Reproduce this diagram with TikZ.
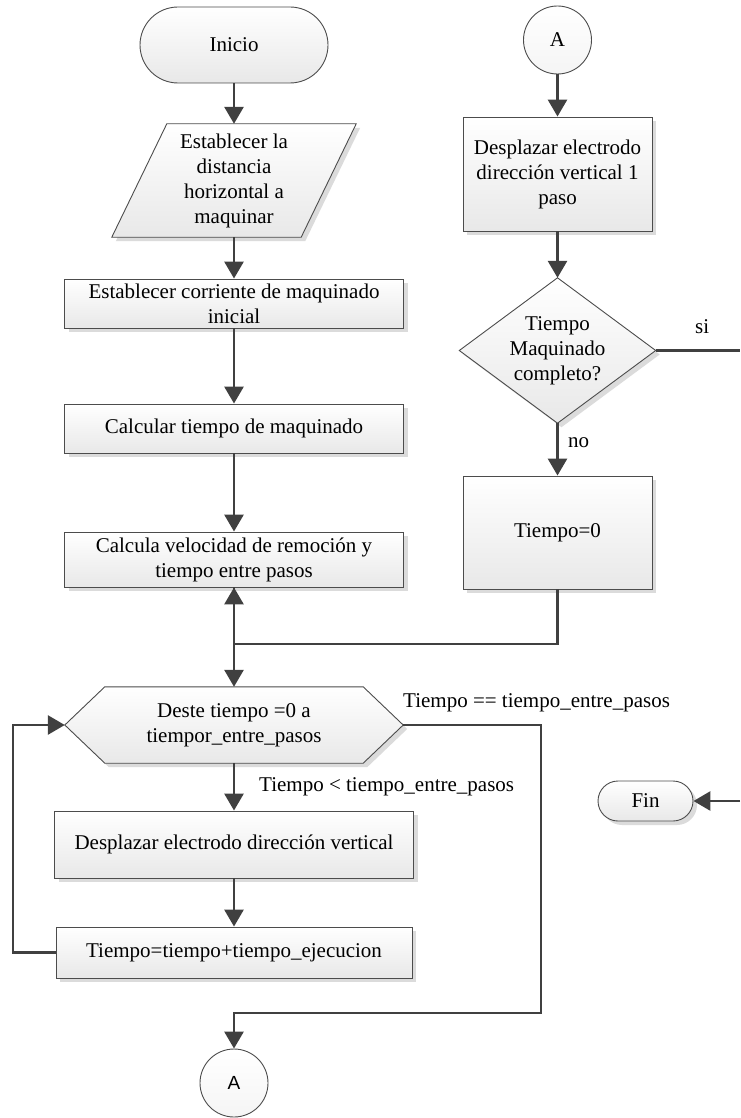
\documentclass[tikz,border=0pt]{standalone}
\usepackage{fontspec}
\setmainfont{Liberation Serif}
\newfontfamily\sansA{Liberation Sans}
\usetikzlibrary{arrows.meta,shadows,calc}
\pgfdeclarelayer{background}
\pgfsetlayers{background,main}

\begin{document}
\begin{tikzpicture}[x=1pt,y=-1pt,
  every node/.style={font=\fontsize{21}{25}\selectfont, align=center, inner sep=0pt},
  fillshade/.style={top color=white, bottom color=black!9, draw=black!70, line width=0.9pt},
  shadowed/.style={drop shadow={shadow xshift=4pt, shadow yshift=-4pt, fill=black!14, opacity=1}},
  procbox/.style={rectangle, fillshade, shadowed},
  terminal/.style={rectangle, fillshade},
  outline/.style={fillshade, shadowed},
  pageref/.style={circle, draw=black!70, line width=0.9pt, top color=white, bottom color=black!4, minimum size=68pt},
  conn/.style={draw=black!75, line width=2.9pt, -{Triangle[length=17pt,width=19pt]}},
  plainline/.style={draw=black!75, line width=2.9pt},
  lbl/.style={anchor=base west}
]
\useasboundingbox (0,0) rectangle (740,1118);

% ---------- left column ----------
\node[terminal, minimum width=188pt, minimum height=76pt, rounded corners=38pt] (ini) at (234,45) {Inicio};

\node[minimum width=244pt, minimum height=113pt] (par) at (234,180.5)
  {Establecer la\\distancia\\horizontal a\\maquinar};

\node[procbox, minimum width=339pt, minimum height=49pt] (corr) at (234,303.5)
  {Establecer corriente de maquinado\\inicial};
\node[procbox, minimum width=339pt, minimum height=49pt] (calc) at (234,428.5)
  {Calcular tiempo de maquinado};
\node[procbox, minimum width=339pt, minimum height=55pt] (vel) at (234,559.5)
  {Calcula velocidad de remoción y\\tiempo entre pasos};

\node[minimum width=338pt, minimum height=76pt] (hex) at (234,725)
  {Deste tiempo =0 a\\tiempor\_entre\_pasos};

\node[procbox, minimum width=359pt, minimum height=67pt] (dv) at (234,844.5)
  {Desplazar electrodo dirección vertical};
\node[procbox, minimum width=356pt, minimum height=51pt] (tt) at (234,952.5)
  {Tiempo=tiempo+tiempo\_ejecucion};

\node[pageref, font=\sansA\fontsize{19}{22}\selectfont] (A2) at (234,1083) {A};

% ---------- right column ----------
\node[pageref] (A1) at (557.5,40) {A};
\node[procbox, minimum width=189pt, minimum height=114pt] (dv1) at (557.5,174)
  {Desplazar electrodo\\dirección vertical 1\\paso};
\node[minimum width=196pt, minimum height=145pt] (dia) at (557.5,350.5)
  {Tiempo\\Maquinado\\completo?};
\node[procbox, minimum width=189pt, minimum height=113pt] (t0) at (557.5,532.5) {Tiempo=0};

\node[terminal, shadowed, minimum width=95pt, minimum height=40pt, rounded corners=20pt] (fin) at (645.5,801) {Fin};

% ---------- outlines of the non-rectangular symbols ----------
\begin{pgfonlayer}{background}
  \path[outline] (par.south west) -- ($(par.north west)+(55,0)$) -- (par.north east)
     -- ($(par.south east)+(-55,0)$) -- cycle;
  \path[outline] (hex.west) -- ($(hex.north west)+(40,0)$) -- ($(hex.north east)+(-40,0)$)
     -- (hex.east) -- ($(hex.south east)+(-40,0)$) -- ($(hex.south west)+(40,0)$) -- cycle;
  \path[outline] (dia.north) -- (dia.east) -- (dia.south) -- (dia.west) -- cycle;
\end{pgfonlayer}

% ---------- connectors ----------
\draw[conn] (ini) -- (par);
\draw[conn] (par) -- (corr);
\draw[conn] (corr) -- (calc);
\draw[conn] (calc) -- (vel);
\draw[conn] (vel) -- (hex);

\coordinate (join) at (234,644);
\draw[conn] (t0.south) |- (join) -- (vel.south);

\draw[conn] (hex) -- (dv);
\draw[conn] (dv) -- (tt);

\coordinate (loopx) at (13,0);
\draw[conn] (tt.west) -- (tt.west -| loopx) |- (hex.west);

\coordinate (exitcorner) at (541,1013);
\draw[conn] (hex.east) -| (exitcorner) -| (A2.north);

\draw[conn] (A1) -- (dv1);
\draw[conn] (dv1) -- (dia);
\draw[conn] (dia) -- (t0);

\coordinate (siend) at (740,350.5);
\draw[plainline] (dia.east) -- (siend);
\coordinate (finin) at (740,801);
\draw[conn] (finin) -- (fin.east);

% ---------- branch labels ----------
\node[lbl] (lbleq) at (403,707) {Tiempo == tiempo\_entre\_pasos};
\node[lbl] (lbllt) at (259,791) {Tiempo < tiempo\_entre\_pasos};
\node[lbl] (lblsi) at (695,333) {si};
\node[lbl] (lblno) at (568,447) {no};
\end{tikzpicture}
\end{document}
